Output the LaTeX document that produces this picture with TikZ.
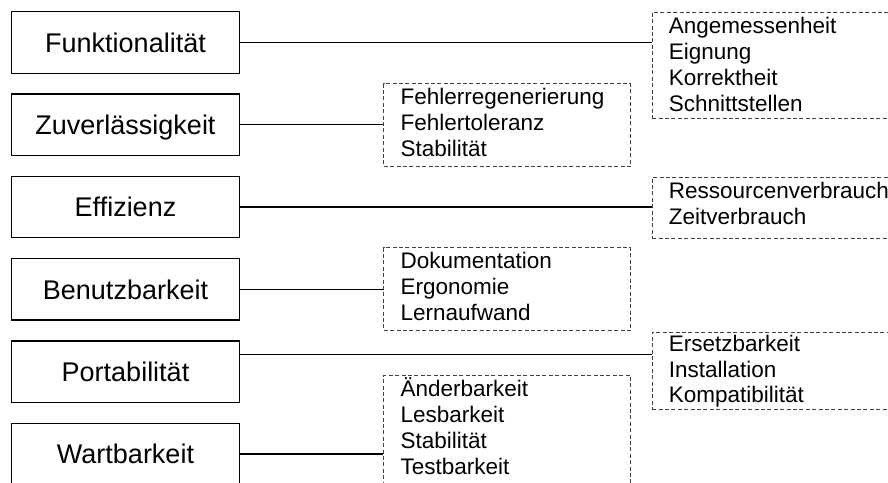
\documentclass[tikz,border=0pt]{standalone}
\usepackage{fontspec}
\setmainfont{Liberation Sans}
\usetikzlibrary{calc}
\begin{document}
\begin{tikzpicture}[x=1pt,y=-1pt,
  catbox/.style={draw, line width=1.3pt, minimum width=227.6pt, minimum height=61.5pt,
    inner sep=0pt, font=\fontsize{27}{32}\selectfont, text height=19.4pt, text depth=0pt},
  listbox/.style={draw=black!75, dash pattern=on 4pt off 2.4pt, line width=0.9pt,
    inner sep=0pt, anchor=north west},
  item/.style={anchor=base west, inner sep=0pt, font=\fontsize{22.5}{26}\selectfont},
  link/.style={line width=1.2pt}]
\useasboundingbox (0,0) rectangle (888,482);

% quality characteristics
\node[catbox] (fun) at (125.5,42.45)  {Funktionalität};
\node[catbox] (zuv) at (125.5,124.75) {Zuverlässigkeit};
\node[catbox] (eff) at (125.5,207.05) {Effizienz};
\node[catbox] (ben) at (125.5,289.35) {Benutzbarkeit};
\node[catbox] (por) at (125.5,371.65) {Portabilität};
\node[catbox] (war) at (125.5,453.95) {Wartbarkeit};

% sub-characteristic frames
\node[listbox, minimum width=260pt,   minimum height=106.6pt] (funL) at (651.7,11.7)  {};
\node[listbox, minimum width=246.7pt, minimum height=82.7pt]  (zuvL) at (383.3,83.3)  {};
\node[listbox, minimum width=260pt,   minimum height=61pt]    (effL) at (651.7,176.7) {};
\node[listbox, minimum width=246.7pt, minimum height=82.7pt]  (benL) at (383.3,247.3) {};
\node[listbox, minimum width=260pt,   minimum height=77pt]    (porL) at (651.7,331.7) {};
\node[listbox, minimum width=246.7pt, minimum height=130pt]   (warL) at (383.3,375)   {};

% sub-characteristic texts
\foreach \t [count=\i from 0] in {Angemessenheit,Eignung,Korrektheit,Schnittstellen}
  \node[item] (funT\i) at ($(funL.north west)+(17,21.5+26*\i)$) {\t};
\foreach \t [count=\i from 0] in {Fehlerregenerierung,Fehlertoleranz,Stabilität}
  \node[item] (zuvT\i) at ($(zuvL.north west)+(17,21.5+26*\i)$) {\t};
\foreach \t [count=\i from 0] in {Ressourcenverbrauch,Zeitverbrauch}
  \node[item] (effT\i) at ($(effL.north west)+(17,21.5+26*\i)$) {\t};
\foreach \t [count=\i from 0] in {Dokumentation,Ergonomie,Lernaufwand}
  \node[item] (benT\i) at ($(benL.north west)+(17,21.5+26*\i)$) {\t};
\foreach \t [count=\i from 0] in {Ersetzbarkeit,Installation,Kompatibilität}
  \node[item] (porT\i) at ($(porL.north west)+(17,20+25.5*\i)$) {\t};
\foreach \t [count=\i from 0] in {Änderbarkeit,Lesbarkeit,Stabilität,Testbarkeit}
  \node[item] (warT\i) at ($(warL.north west)+(17,21.5+26*\i)$) {\t};

% connectors
\draw[link] (fun.east) -- (fun.east -| funL.west);
\draw[link] (zuv.east) -- (zuv.east -| zuvL.west);
\draw[link] (eff.east) -- (eff.east -| effL.west);
\draw[link] (ben.east) -- (ben.east -| benL.west);
\draw[link] ([yshift=16.8pt]por.east) -- ([yshift=16.8pt]por.east -| porL.west);
\draw[link] (war.east) -- (war.east -| warL.west);
\end{tikzpicture}
\end{document}
